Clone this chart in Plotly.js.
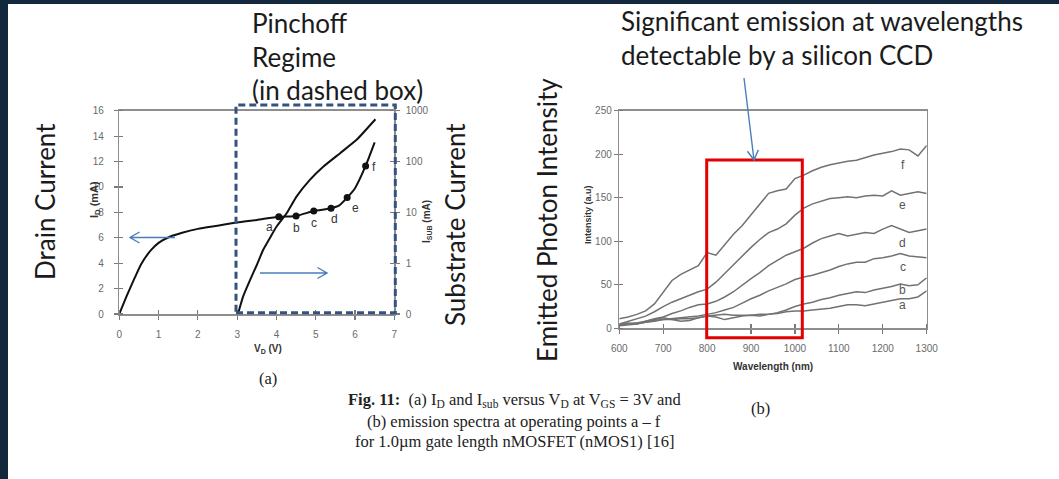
<!DOCTYPE html>
<html>
<head>
<meta charset="utf-8">
<script src="https://cdn.plot.ly/plotly-3.0.1.min.js"></script>
<style>html,body{margin:0;padding:0;background:#13273d;}#chart{width:1059px;height:479px;}</style>
</head>
<body>
<div id="chart"></div>
<script>
// ---------- (a) Drain / substrate current vs drain voltage ----------
const vdId  = [0, 0.2, 0.4, 0.57, 0.8, 1.0, 1.3, 1.6, 2.0, 2.5, 3.0, 3.5, 4.06, 4.5, 4.95, 5.39, 5.6, 5.8, 6.0, 6.27, 6.5];
const idMa  = [0, 1.5, 2.9, 4.0, 5.0, 5.6, 6.1, 6.4, 6.7, 6.95, 7.2, 7.4, 7.66, 7.72, 8.11, 8.32, 8.55, 9.16, 9.9, 11.65, 13.5];
const vdSub = [3.02, 3.15, 3.33, 3.5, 3.66, 3.83, 4.0, 4.26, 4.51, 4.85, 5.19, 5.62, 6.04, 6.52];
const iSub  = [0.1, 0.22, 0.47, 0.92, 1.82, 3.1, 5.2, 9.6, 20.4, 43.5, 79, 146, 267, 679];
const opLabels = ['a', 'b', 'c', 'd', 'e', 'f'];
const opVd  = [4.06, 4.5, 4.95, 5.39, 5.8, 6.27];
const opId  = [7.66, 7.72, 8.11, 8.32, 9.16, 11.65];
const vdTicks = [0, 1, 2, 3, 4, 5, 6, 7];
const idTicks = [0, 2, 4, 6, 8, 10, 12, 14, 16];
const subTickVals = [0.1, 1, 10, 100, 1000];
const subTickText = ['0', '1', '10', '100', '1000'];

// ---------- (b) Emission spectra ----------
const wavelength = [600,620,640,660,680,700,720,740,760,780,800,820,840,860,880,900,920,940,960,980,1000,1020,1040,1060,1080,1100,1120,1140,1160,1180,1200,1220,1240,1260,1280,1300];
const specA = [4,5,6,7,9,10,10,11,11,12,14,15,16,15,15,15,16,16,17,19,20,20,21,22,23,25,27,27,26,28,30,32,34,34,36,43];
const specB = [5,6,5,8,10,12,10,8,9,12,14,13,10,12,14,15,14,16,18,21,25,28,30,33,35,38,40,42,41,44,46,48,51,49,50,58];
const specC = [3,4,5,7,8,10,11,12,13,14,16,18,21,24,29,34,38,43,47,51,56,59,61,64,67,71,74,76,76,80,81,83,86,83,82,81];
const specD = [4,5,6,8,11,13,17,20,24,27,28,31,36,42,50,57,64,72,78,84,88,92,98,103,106,109,106,108,110,109,114,118,114,110,112,114];
const specE = [5,8,11,14,19,25,30,34,38,42,45,53,63,73,84,93,102,110,114,120,130,138,143,146,149,150,151,150,152,153,152,158,153,155,157,155];
const specF = [11,13,16,20,28,42,55,62,67,72,87,84,96,108,118,130,142,155,158,160,172,176,181,185,188,190,192,193,196,199,201,203,206,205,198,210];
const specSeries = [specA, specB, specC, specD, specE, specF];
const specLabels = ['a', 'b', 'c', 'd', 'e', 'f'];
const specLabelY = [27, 44, 71, 98, 142, 188];
const wlTicks = [600, 700, 800, 900, 1000, 1100, 1200, 1300];
const intTicks = [0, 50, 100, 150, 200, 250];

// ---------- helpers (pixel -> paper) ----------
const W = 1059, H = 479;
const px = x => x / W;
const py = y => 1 - y / H;

const axisCommon = {
  showline: true, linecolor: '#8e8e8e', linewidth: 1.5,
  ticks: 'outside', ticklen: 4, tickwidth: 1.2, tickcolor: '#7a7a7a',
  tickfont: {family: 'Liberation Sans, Arial, sans-serif', size: 10, color: '#6a6a6a'},
  showgrid: false, zeroline: false, fixedrange: true
};
function withMinor(vals, eps) {
  return {ticks: 'inside', ticklen: 4, tickwidth: 1.2, tickcolor: '#7a7a7a', tickmode: 'array',
          tickvals: vals.map(v => v + eps), showgrid: false};
}

const traces = [];
traces.push({x: vdId, y: idMa, xaxis: 'x', yaxis: 'y', mode: 'lines',
  line: {color: '#111', width: 2, shape: 'spline', smoothing: 0.6}, hoverinfo: 'skip'});
traces.push({x: opVd, y: opId, xaxis: 'x', yaxis: 'y', mode: 'markers',
  marker: {color: '#111', size: 7}, hoverinfo: 'skip'});
traces.push({x: vdSub, y: iSub, xaxis: 'x', yaxis: 'y2', mode: 'lines',
  line: {color: '#111', width: 2, shape: 'spline', smoothing: 0.4}, hoverinfo: 'skip'});
specSeries.forEach(s => traces.push({x: wavelength, y: s, xaxis: 'x2', yaxis: 'y3', mode: 'lines',
  line: {color: '#727272', width: 1.5}, hoverinfo: 'skip'}));

// open-chevron arrow as a path in paper coordinates (given in pixels)
function arrowPath(x0, y0, x1, y1, head) {
  const ang = Math.atan2(y1 - y0, x1 - x0), a = Math.PI / 6;
  const hx1 = x1 - head * Math.cos(ang - a), hy1 = y1 - head * Math.sin(ang - a);
  const hx2 = x1 - head * Math.cos(ang + a), hy2 = y1 - head * Math.sin(ang + a);
  const P = (x, y) => px(x).toFixed(5) + ',' + py(y).toFixed(5);
  return 'M' + P(x0, y0) + ' L' + P(x1, y1) + ' M' + P(hx1, hy1) + ' L' + P(x1, y1) + ' L' + P(hx2, hy2);
}
const blue = '#4a7ebb';
const shapes = [
  {type: 'rect', xref: 'paper', yref: 'paper', x0: px(8), x1: 1, y0: 0, y1: py(4),
   fillcolor: '#ffffff', line: {width: 0}, layer: 'below'},
  {type: 'rect', xref: 'paper', yref: 'paper', x0: px(236), x1: px(395.3), y0: py(312.7), y1: py(105),
   line: {color: '#34537f', width: 3, dash: '7px,4px'}},
  {type: 'rect', xref: 'paper', yref: 'paper', x0: px(706.7), x1: px(802.3), y0: py(337.7), y1: py(160),
   line: {color: '#e30000', width: 3}},
  {type: 'path', xref: 'paper', yref: 'paper', path: arrowPath(175, 237.5, 130, 237.5, 11), line: {color: blue, width: 1.4}},
  {type: 'path', xref: 'paper', yref: 'paper', path: arrowPath(260, 273, 327, 273, 11), line: {color: blue, width: 1.4}},
  {type: 'path', xref: 'paper', yref: 'paper', path: arrowPath(744, 78, 754, 160, 11), line: {color: blue, width: 1.4}}
];

const slideFont = {family: 'Lato, Noto Sans, sans-serif', size: 26, color: '#1b1b1b'};
const smallBold = {family: 'Liberation Sans, Arial, sans-serif', size: 10, color: '#333'};
const serif = {family: 'Liberation Serif, Times New Roman, serif', size: 16.5, color: '#222'};
const ann = [];
function txt(t, x, y, font, extra) {
  ann.push(Object.assign({text: t, xref: 'paper', yref: 'paper', x: px(x), y: py(y),
    showarrow: false, font: font, xanchor: 'left', yanchor: 'middle'}, extra || {}));
}
txt('Pinchoff', 250, 23, slideFont);
txt('Regime', 250, 57, slideFont);
txt('(in dashed box)', 250, 90, slideFont);
txt('Significant emission at wavelengths', 619, 21, slideFont);
txt('detectable by a silicon CCD', 619, 55, slideFont);
txt('Drain Current', 45, 202, slideFont, {textangle: -90, xanchor: 'center'});
txt('Substrate Current', 455, 225, slideFont, {textangle: -90, xanchor: 'center'});
txt('Emitted Photon Intensity', 547, 220, slideFont, {textangle: -90, xanchor: 'center'});
txt('<b>I<sub>D</sub> (mA)</b>', 95, 200, Object.assign({}, smallBold, {size: 11}), {textangle: -90, xanchor: 'center'});
txt('<b>I<sub>SUB</sub> (mA)</b>', 427, 222, smallBold, {textangle: -90, xanchor: 'center'});
txt('<b>V<sub>D</sub> (V)</b>', 268, 349, smallBold, {xanchor: 'center'});
txt('<b>Wavelength (nm)</b>', 773, 366, smallBold, {xanchor: 'center'});
txt('<b>Intensity (a.u)</b>', 588, 215, Object.assign({}, smallBold, {size: 9}), {textangle: -90, xanchor: 'center'});
txt('(a)', 268, 378, serif, {xanchor: 'center'});
txt('(b)', 760, 408, serif, {xanchor: 'center'});
txt('<b>Fig. 11:</b>  (a) I<sub>D</sub> and I<sub>sub</sub> versus V<sub>D</sub> at V<sub>GS</sub> = 3V and', 514.5, 400, serif, {xanchor: 'center'});
txt('(b) emission spectra at operating points a \u2013 f', 514, 421, serif, {xanchor: 'center'});
txt('for 1.0\u00b5m gate length nMOSFET (nMOS1) [16]', 514.5, 441, serif, {xanchor: 'center'});

// operating-point labels on (a)
const opShift = [[-9, -10], [0, -12], [0, -12], [3, -11], [8, -10], [8, -1]];
opLabels.forEach((l, i) => ann.push({text: l, x: opVd[i], y: opId[i], xref: 'x', yref: 'y', showarrow: false,
  xshift: opShift[i][0], yshift: opShift[i][1], font: {family: 'Liberation Sans, Arial', size: 12, color: '#333'}}));
// curve labels on (b)
specLabels.forEach((l, i) => ann.push({text: l, x: 1245, y: specLabelY[i], xref: 'x2', yref: 'y3', showarrow: false,
  font: {family: 'Liberation Sans, Arial', size: 12, color: '#555'}}));

const layout = {
  width: W, height: H, margin: {l: 0, r: 0, t: 0, b: 0},
  paper_bgcolor: '#13273d', plot_bgcolor: 'rgba(0,0,0,0)', showlegend: false,
  xaxis: Object.assign({}, axisCommon, {domain: [px(119.3), px(394.3)], range: [0, 7], anchor: 'y',
    tickmode: 'array', tickvals: vdTicks, mirror: true, ticklabelstandoff: 6, minor: withMinor(vdTicks, 0.0005)}),
  yaxis: Object.assign({}, axisCommon, {domain: [py(314), py(110.7)], range: [0, 16], anchor: 'x',
    tickmode: 'array', tickvals: idTicks, ticklabelstandoff: 8, minor: withMinor(idTicks, 0.001)}),
  yaxis2: Object.assign({}, axisCommon, {overlaying: 'y', side: 'right', anchor: 'x', type: 'log', range: [-1, 3],
    tickmode: 'array', tickvals: subTickVals, ticktext: subTickText, ticklabelstandoff: 4,
    minor: withMinor(subTickVals, 0)}),
  xaxis2: Object.assign({}, axisCommon, {domain: [px(619.3), px(926.7)], range: [600, 1300], anchor: 'y3',
    tickmode: 'array', tickvals: wlTicks, mirror: true, ticklabelstandoff: 6, minor: withMinor(wlTicks, 0.05)}),
  yaxis3: Object.assign({}, axisCommon, {domain: [py(328.3), py(110.7)], range: [0, 250], anchor: 'x2',
    tickmode: 'array', tickvals: intTicks, mirror: true, ticklabelstandoff: 0, minor: withMinor(intTicks, 0.02)}),
  shapes: shapes, annotations: ann
};
Plotly.newPlot('chart', traces, layout, {staticPlot: true, displayModeBar: false});
</script>
</body>
</html>
